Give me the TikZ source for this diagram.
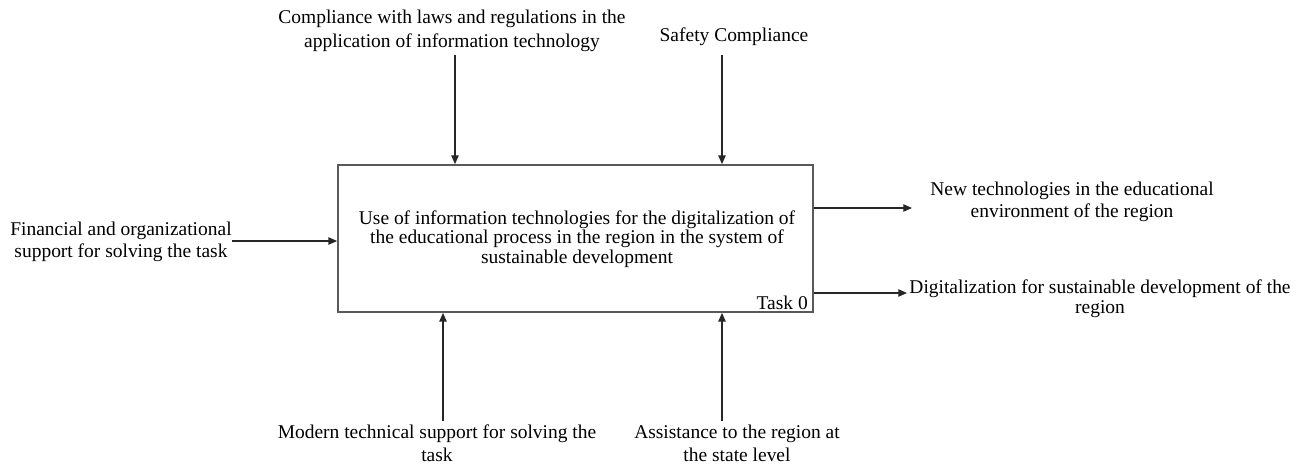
\documentclass[tikz,border=0pt]{standalone}
\usepackage{fontspec}
\setmainfont{Liberation Serif}
\usetikzlibrary{arrows.meta}
\begin{document}
\begin{tikzpicture}[x=0.75pt,y=-0.75pt,
  lbl/.style={align=center,inner sep=0pt,font=\fontsize{14.6}{16.5}\selectfont},
  widelbl/.style={align=center,inner sep=0pt,font=\fontsize{14.6}{18}\selectfont},
  boxtext/.style={align=center,inner sep=0pt,font=\fontsize{14.6}{14.8}\selectfont},
  flow/.style={draw=black!85,line width=0.9pt,-{Triangle[length=6.5pt,width=5.5pt]}},
  taskbox/.style={draw=black!65,line width=1.3pt,minimum width=356.25pt,minimum height=110.25pt,inner sep=0pt}]
\useasboundingbox (0,0) rectangle (1307,465);

% the activity box
\node[taskbox] (task) at (575.5,238.5) {};
\node[boxtext] (title) at (577,239) {Use of information technologies for the digitalization of\\the educational process in the region in the system of\\sustainable development};
\node[lbl,anchor=base east] (tasknum) at (808,309) {Task 0};

% controls (top)
\node[widelbl] (law) at (452,31) {Compliance with laws and regulations in the\\application of information technology};
\node[lbl] (safety) at (734,37) {Safety Compliance};
\coordinate (lawstart) at (455,55);
\coordinate (safestart) at (722,55);
\draw[flow] (lawstart) -- (lawstart |- task.north);
\draw[flow] (safestart) -- (safestart |- task.north);

% input (left)
\node[lbl] (fin) at (121,242) {Financial and organizational\\support for solving the task};
\coordinate (finstart) at (232,241);
\draw[flow] (finstart) -- (finstart -| task.west);

% mechanisms (bottom)
\node[lbl,font=\fontsize{14.6}{17}\selectfont] (tech) at (437,443.5) {Modern technical support for solving the\\task};
\node[lbl,font=\fontsize{14.6}{17}\selectfont] (assist) at (737,443.5) {Assistance to the region at\\the state level};
\coordinate (techstart) at (443,421);
\coordinate (assiststart) at (722,421);
\draw[flow] (techstart) -- (techstart |- task.south);
\draw[flow] (assiststart) -- (assiststart |- task.south);

% outputs (right)
\node[lbl] (newtech) at (1072,202) {New technologies in the educational\\environment of the region};
\node[lbl,font=\fontsize{14.6}{15}\selectfont] (digit) at (1100,298.5) {Digitalization for sustainable development of the\\region};
\coordinate (out1) at (912,208);
\coordinate (out2) at (907,293);
\draw[flow] (out1 -| task.east) -- (out1);
\draw[flow] (out2 -| task.east) -- (out2);
\end{tikzpicture}
\end{document}
